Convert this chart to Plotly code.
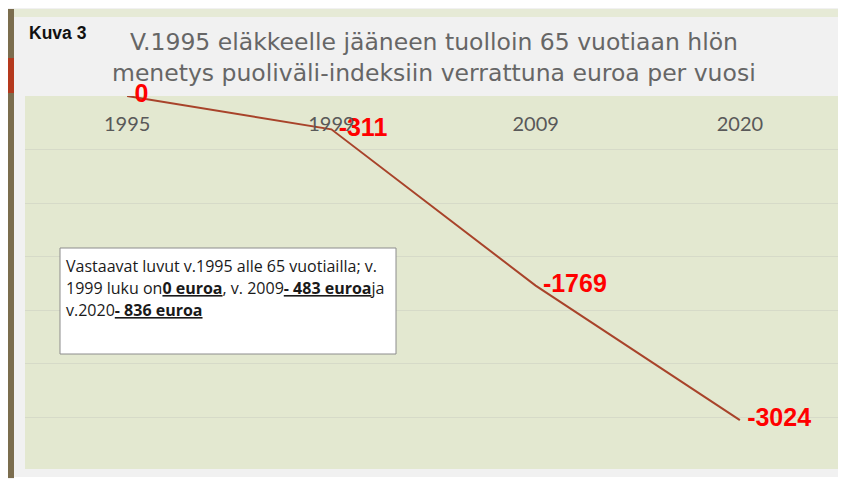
import plotly.graph_objects as go

years = ["1995", "1999", "2009", "2020"]
loss = [0, -311, -1769, -3024]
labels = ["0", "-311", "-1769", "-3024"]

title_lines = ["V.1995 eläkkeelle jääneen tuolloin 65 vuotiaan hlön",
               "menetys puoliväli-indeksiin verrattuna euroa per vuosi"]
box_lines = ["Vastaavat luvut v.1995 alle 65 vuotiailla; v.",
             "1999 luku on<u><b>0 euroa</b></u>, v. 2009<u><b>- 483 euroa</b></u>ja",
             "v.2020<u><b>- 836 euroa</b></u>"]

W, H = 846, 479
O = 8  # page body margin offset
# plot area in page coordinates: x 25..842, y 96..469
PL, PR, PT, PB = 25, 842, 96, 469
L, T = PL - O, PT - O
R, B = W - (PR - O), H - (PB - O)
PW, PH = PR - PL, PB - PT


def px(x):
    return (x - PL) / PW


def py(y):
    return (PB - y) / PH


fig = go.Figure()
fig.add_trace(go.Scatter(
    x=years, y=loss, mode="lines+markers+text", text=labels,
    textposition="middle right",
    textfont=dict(family="Liberation Sans", size=25, color="#ff0000", weight="bold"),
    line=dict(color="#a8432a", width=2),
    marker=dict(size=10, color="rgba(0,0,0,0)"),
    cliponaxis=False, hoverinfo="skip", showlegend=False))

shapes = [
    # top green strip
    dict(type="rect", xref="paper", yref="paper", x0=px(14), x1=px(860), y0=py(17), y1=py(9),
         fillcolor="#e6ead6", line=dict(width=0), layer="below"),
    # left brown bar
    dict(type="rect", xref="paper", yref="paper", x0=px(8), x1=px(14), y0=py(478), y1=py(9),
         fillcolor="#7b6d4e", line=dict(width=0), layer="below"),
    # red block
    dict(type="rect", xref="paper", yref="paper", x0=px(8), x1=px(14), y0=py(93), y1=py(58),
         fillcolor="#b5391d", line=dict(width=0), layer="below"),
    # bottom white strip
    dict(type="rect", xref="paper", yref="paper", x0=px(14), x1=px(860), y0=py(490), y1=py(477),
         fillcolor="#ffffff", line=dict(width=0), layer="below"),
    # text box
    dict(type="rect", xref="paper", yref="paper", x0=px(60), x1=px(396), y0=py(354), y1=py(248),
         fillcolor="#ffffff", line=dict(color="#8c8c8c", width=1), layer="above"),
]

annotations = [
    dict(xref="paper", yref="paper", x=px(27), y=py(33), xanchor="left", yanchor="middle",
         text="<b>Kuva 3</b>", showarrow=False,
         font=dict(family="Liberation Sans", size=17.5, color="#111111")),
]
for i, line in enumerate(title_lines):
    annotations.append(dict(xref="paper", yref="paper", x=px(434), y=py(42 + 31 * i),
                            xanchor="center", yanchor="middle", text=line, showarrow=False,
                            borderpad=0,
                            font=dict(family="DejaVu Sans", size=23.5, color="#666666")))
for i, line in enumerate(box_lines):
    annotations.append(dict(xref="paper", yref="paper", x=px(64), y=py(266 + 22 * i),
                            xanchor="left", yanchor="middle", text=line, showarrow=False,
                            font=dict(family="Open Sans", size=16, color="#1a1a1a")))

fig.update_layout(
    width=W, height=H,
    margin=dict(l=L, r=R, t=T, b=B, autoexpand=False),
    paper_bgcolor="#f1f1f1",
    plot_bgcolor="#e3e8d0",
    shapes=shapes,
    annotations=annotations,
    xaxis=dict(type="category", categoryorder="array", categoryarray=years,
               range=[-0.5, 3.5], side="top", ticklabelposition="inside",
               ticks="", showgrid=False, zeroline=False, showline=False,
               ticklabelstandoff=18,
               tickfont=dict(family="Lato", size=20, color="#595959")),
    yaxis=dict(range=[-3480, 0], dtick=500, showticklabels=False, ticks="",
               showgrid=True, gridcolor="#d6dac8", gridwidth=1, zeroline=False,
               showline=False),
)

fig.write_html("out.html")
